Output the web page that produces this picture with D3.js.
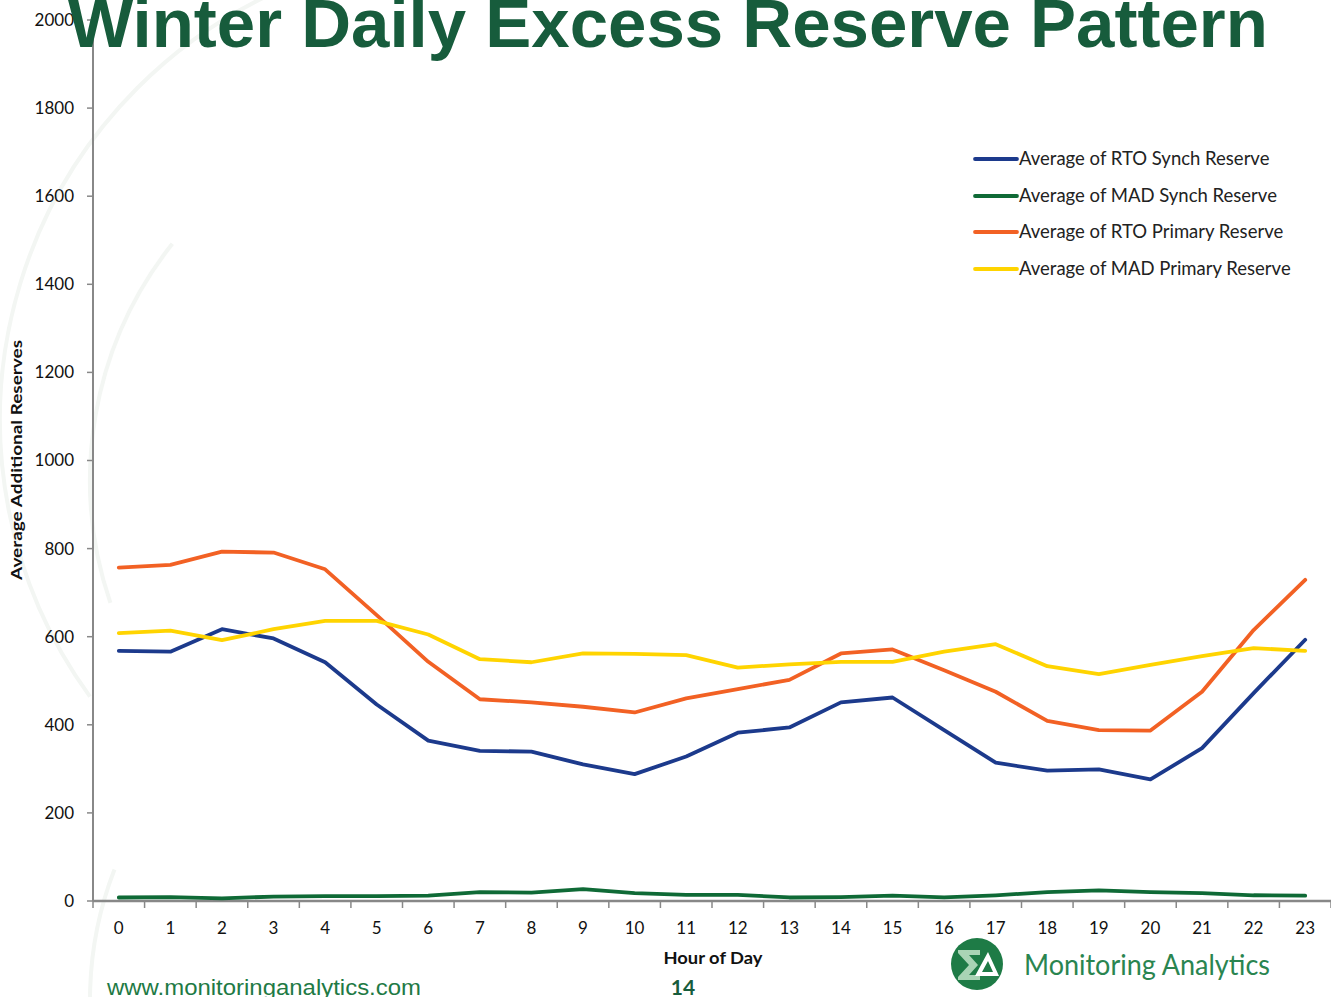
<!DOCTYPE html>
<html>
<head>
<meta charset="utf-8">
<script src="https://cdn.jsdelivr.net/npm/d3@7"></script>
<style>
  body { margin: 0; background: #fff; }
  svg { display: block; }
</style>
</head>
<body>
<svg></svg>
<script>
const width = 1331
const height = 997

const hours = d3.range(0, 24)
const yTicks = [0, 200, 400, 600, 800, 1000, 1200, 1400, 1600, 1800, 2000]

const seriesNames = [
  'Average of RTO Synch Reserve',
  'Average of MAD Synch Reserve',
  'Average of RTO Primary Reserve',
  'Average of MAD Primary Reserve',
]
const rtoSynch = [568, 566, 617, 596, 542, 446, 364, 341, 339, 310, 288, 328,
  382, 394, 451, 462, 388, 314, 296, 299, 276, 347, 472, 593]
const madSynch = [8, 9, 6, 10, 11, 11, 12, 20, 19, 27, 18, 14,
  14, 8, 9, 12, 8, 13, 20, 24, 20, 18, 13, 12]
const rtoPrimary = [757, 763, 793, 791, 753, 649, 543, 458, 451, 441, 428, 460,
  481, 502, 562, 571, 524, 475, 409, 388, 387, 475, 615, 729]
const madPrimary = [608, 614, 592, 617, 636, 636, 605, 549, 542, 562, 561, 558,
  530, 537, 543, 543, 566, 583, 533, 515, 536, 556, 574, 568]
const colors = ['#1c3a8c', '#0f6a36', '#f26124', '#ffd400']

const seriesData = [rtoSynch, madSynch, rtoPrimary, madPrimary]

const svg = d3.select('svg').attr('width', width).attr('height', height)

// faint watermark arcs
const wm = svg.append('g').attr('fill', 'none').attr('stroke', '#f3f6f3').attr('stroke-width', 4)
wm.append('path').attr('d', d3.arc()({ innerRadius: 470, outerRadius: 470, startAngle: -2.2, endAngle: -0.35 }))
  .attr('transform', 'translate(470,420)')
wm.append('path').attr('d', d3.arc()({ innerRadius: 360, outerRadius: 360, startAngle: -2.6, endAngle: -1.2 }))
  .attr('transform', 'translate(450,1000)')
wm.append('path').attr('d', d3.arc()({ innerRadius: 380, outerRadius: 380, startAngle: -1.9, endAngle: -0.9 }))
  .attr('transform', 'translate(470,480)')

const x = d3.scaleBand().domain(hours).range([93, 1331])
const y = d3.scaleLinear().domain([0, 2000]).range([901, 20])
const axisColor = '#888'

// y axis
const yAxis = svg.append('g')
yAxis.append('line')
  .attr('x1', 93).attr('x2', 93).attr('y1', y(2000)).attr('y2', y(0))
  .attr('stroke', axisColor).attr('stroke-width', 2)
yAxis.selectAll('.ytick').data(yTicks).enter().append('line')
  .attr('x1', 87).attr('x2', 93).attr('y1', d => y(d)).attr('y2', d => y(d))
  .attr('stroke', axisColor).attr('stroke-width', 1.5)
yAxis.selectAll('.ylab').data(yTicks).enter().append('text')
  .attr('x', 74).attr('y', d => y(d)).attr('dy', '0.35em')
  .attr('text-anchor', 'end')
  .style('font-family', 'Lato, "Open Sans", sans-serif').style('font-size', '17px').style('fill', '#111')
  .text(d => d)

// x axis
const xAxis = svg.append('g')
xAxis.append('line')
  .attr('x1', 93).attr('x2', 1331).attr('y1', y(0)).attr('y2', y(0))
  .attr('stroke', axisColor).attr('stroke-width', 2.5)
const bounds = hours.map(h => x(h)).concat([x(23) + x.bandwidth()])
xAxis.selectAll('.xtick').data(bounds).enter().append('line')
  .attr('x1', d => d).attr('x2', d => d).attr('y1', y(0)).attr('y2', y(0) + 7)
  .attr('stroke', axisColor).attr('stroke-width', 1.5)
xAxis.selectAll('.xlab').data(hours).enter().append('text')
  .attr('x', d => x(d) + x.bandwidth() / 2).attr('y', 934)
  .attr('text-anchor', 'middle')
  .style('font-family', 'Lato, "Open Sans", sans-serif').style('font-size', '17px').style('fill', '#111')
  .text(d => d)

// axis titles
svg.append('text')
  .attr('x', 713).attr('y', 964).attr('text-anchor', 'middle')
  .attr('textLength', 99).attr('lengthAdjust', 'spacingAndGlyphs')
  .style('font-family', 'Lato, sans-serif').style('font-weight', 'bold').style('font-size', '17px').style('fill', '#111')
  .text('Hour of Day')
svg.append('text')
  .attr('transform', 'translate(22,460) rotate(-90)').attr('text-anchor', 'middle')
  .attr('textLength', 240).attr('lengthAdjust', 'spacingAndGlyphs')
  .style('font-family', 'Lato, sans-serif').style('font-weight', 'bold').style('font-size', '15px').style('fill', '#111')
  .text('Average Additional Reserves')

// lines
const line = d3.line().x((d, i) => x(hours[i]) + x.bandwidth() / 2).y(d => y(d))
svg.append('g').selectAll('path').data([1, 0, 2, 3]).enter().append('path')
  .attr('d', i => line(seriesData[i]))
  .attr('fill', 'none')
  .attr('stroke', i => colors[i])
  .attr('stroke-width', 3.8)
  .attr('stroke-linejoin', 'round')
  .attr('stroke-linecap', 'round')

// legend
const legend = svg.append('g')
const legendY = [159, 196, 232, 269]
seriesNames.forEach((name, i) => {
  legend.append('line')
    .attr('x1', 975).attr('x2', 1017).attr('y1', legendY[i]).attr('y2', legendY[i])
    .attr('stroke', colors[i]).attr('stroke-width', 3.8).attr('stroke-linecap', 'round')
  legend.append('text')
    .attr('x', 1019).attr('y', legendY[i]).attr('dy', '0.35em')
    .style('font-family', 'Lato, "Open Sans", sans-serif').style('font-size', '18.5px').style('fill', '#222')
    .text(name)
})

// title
const title = svg.append('text')
  .attr('x', 68).attr('y', 47)
  .style('font-family', '"Liberation Sans", Arial, sans-serif').style('font-weight', 'bold')
  .style('font-size', '64px').style('fill', '#175c3c')
  .text('Winter Daily Excess Reserve Pattern')
const tw = title.node().getComputedTextLength()
title.style('font-size', (64 * 1200 / tw) + 'px')

// footer
svg.append('text')
  .attr('x', 107).attr('y', 995)
  .attr('textLength', 314).attr('lengthAdjust', 'spacingAndGlyphs')
  .style('font-family', '"Liberation Sans", Arial, sans-serif').style('font-size', '22px').style('fill', '#1e7a45')
  .text('www.monitoringanalytics.com')
svg.append('text')
  .attr('x', 683).attr('y', 995).attr('text-anchor', 'middle')
  .style('font-family', 'Lato, sans-serif').style('font-weight', 'bold').style('font-size', '21px').style('fill', '#175c3c')
  .text('14')

// logo
const logo = svg.append('g').attr('transform', 'translate(977,964)')
logo.append('circle').attr('r', 26).attr('fill', '#1e7b46')
logo.append('path')
  .attr('d', 'M-19,-14 L3,-14 L3,-9 L-8,-9 L1,1 L-8,11 L3,11 L3,16 L-19,16 L-19,13 L-8,1 L-19,-11 Z')
  .attr('fill', '#a9d4b5')
logo.append('path')
  .attr('d', 'M-2,12 L11,-12 L22,12 Z M5,8 L11,-3 L16,8 Z')
  .attr('fill', '#fff').attr('fill-rule', 'evenodd')
svg.append('text')
  .attr('x', 1024).attr('y', 975)
  .attr('textLength', 246).attr('lengthAdjust', 'spacingAndGlyphs')
  .style('font-family', 'Lato, sans-serif').style('font-size', '28px').style('fill', '#2a8550')
  .text('Monitoring Analytics')
</script>
</body>
</html>
